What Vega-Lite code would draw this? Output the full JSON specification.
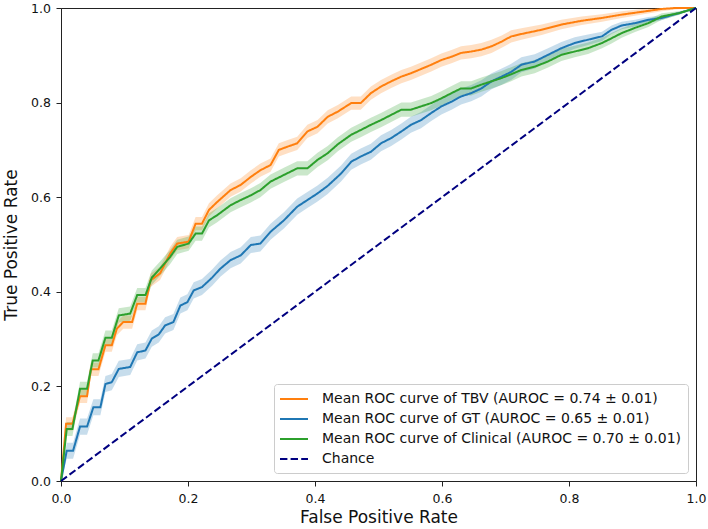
{
  "$schema": "https://vega.github.io/schema/vega-lite/v6.json",
  "autosize": {"type": "none"},
  "padding": {"left": 61, "top": 8, "right": 12, "bottom": 48},
  "width": 635,
  "height": 473,
  "config": {
    "view": {"stroke": "#222", "strokeWidth": 1},
    "font": "DejaVu Sans",
    "axis": {"domainColor": "#222", "domainWidth": 1, "tickColor": "#222", "tickSize": 5, "tickWidth": 1, "labelFontSize": 12.5, "labelColor": "#111", "labelFont": "DejaVu Sans", "titleFont": "DejaVu Sans", "titleFontSize": 17, "titleFontWeight": "normal", "titleColor": "#111", "grid": false, "labelFlush": false, "labelOverlap": false, "labelBound": false}
  },
  "data": {"values": [
    {"series":"TBV","fpr":0,"tpr":0,"lo":0,"hi":0},
    {"series":"TBV","fpr":0.008,"tpr":0.121,"lo":0.107,"hi":0.135},
    {"series":"TBV","fpr":0.018,"tpr":0.121,"lo":0.107,"hi":0.135},
    {"series":"TBV","fpr":0.030,"tpr":0.179,"lo":0.165,"hi":0.193},
    {"series":"TBV","fpr":0.041,"tpr":0.179,"lo":0.165,"hi":0.193},
    {"series":"TBV","fpr":0.047,"tpr":0.236,"lo":0.222,"hi":0.250},
    {"series":"TBV","fpr":0.059,"tpr":0.236,"lo":0.222,"hi":0.250},
    {"series":"TBV","fpr":0.070,"tpr":0.287,"lo":0.273,"hi":0.301},
    {"series":"TBV","fpr":0.080,"tpr":0.287,"lo":0.273,"hi":0.301},
    {"series":"TBV","fpr":0.088,"tpr":0.322,"lo":0.308,"hi":0.336},
    {"series":"TBV","fpr":0.098,"tpr":0.336,"lo":0.322,"hi":0.350},
    {"series":"TBV","fpr":0.112,"tpr":0.336,"lo":0.322,"hi":0.350},
    {"series":"TBV","fpr":0.120,"tpr":0.375,"lo":0.361,"hi":0.389},
    {"series":"TBV","fpr":0.133,"tpr":0.375,"lo":0.361,"hi":0.389},
    {"series":"TBV","fpr":0.141,"tpr":0.424,"lo":0.410,"hi":0.438},
    {"series":"TBV","fpr":0.156,"tpr":0.439,"lo":0.425,"hi":0.453},
    {"series":"TBV","fpr":0.172,"tpr":0.481,"lo":0.467,"hi":0.495},
    {"series":"TBV","fpr":0.183,"tpr":0.502,"lo":0.488,"hi":0.516},
    {"series":"TBV","fpr":0.201,"tpr":0.506,"lo":0.492,"hi":0.520},
    {"series":"TBV","fpr":0.212,"tpr":0.544,"lo":0.530,"hi":0.558},
    {"series":"TBV","fpr":0.222,"tpr":0.544,"lo":0.530,"hi":0.558},
    {"series":"TBV","fpr":0.233,"tpr":0.573,"lo":0.559,"hi":0.587},
    {"series":"TBV","fpr":0.246,"tpr":0.590,"lo":0.576,"hi":0.604},
    {"series":"TBV","fpr":0.267,"tpr":0.615,"lo":0.601,"hi":0.629},
    {"series":"TBV","fpr":0.283,"tpr":0.626,"lo":0.612,"hi":0.640},
    {"series":"TBV","fpr":0.299,"tpr":0.643,"lo":0.629,"hi":0.657},
    {"series":"TBV","fpr":0.314,"tpr":0.657,"lo":0.643,"hi":0.671},
    {"series":"TBV","fpr":0.330,"tpr":0.668,"lo":0.654,"hi":0.682},
    {"series":"TBV","fpr":0.343,"tpr":0.700,"lo":0.686,"hi":0.714},
    {"series":"TBV","fpr":0.357,"tpr":0.707,"lo":0.693,"hi":0.721},
    {"series":"TBV","fpr":0.372,"tpr":0.714,"lo":0.700,"hi":0.728},
    {"series":"TBV","fpr":0.388,"tpr":0.739,"lo":0.725,"hi":0.753},
    {"series":"TBV","fpr":0.404,"tpr":0.749,"lo":0.735,"hi":0.763},
    {"series":"TBV","fpr":0.420,"tpr":0.770,"lo":0.756,"hi":0.784},
    {"series":"TBV","fpr":0.436,"tpr":0.781,"lo":0.767,"hi":0.795},
    {"series":"TBV","fpr":0.457,"tpr":0.799,"lo":0.785,"hi":0.813},
    {"series":"TBV","fpr":0.472,"tpr":0.799,"lo":0.785,"hi":0.813},
    {"series":"TBV","fpr":0.488,"tpr":0.820,"lo":0.806,"hi":0.834},
    {"series":"TBV","fpr":0.504,"tpr":0.834,"lo":0.820,"hi":0.848},
    {"series":"TBV","fpr":0.520,"tpr":0.845,"lo":0.831,"hi":0.859},
    {"series":"TBV","fpr":0.536,"tpr":0.855,"lo":0.841,"hi":0.869},
    {"series":"TBV","fpr":0.551,"tpr":0.862,"lo":0.848,"hi":0.876},
    {"series":"TBV","fpr":0.567,"tpr":0.871,"lo":0.857,"hi":0.885},
    {"series":"TBV","fpr":0.583,"tpr":0.880,"lo":0.866,"hi":0.894},
    {"series":"TBV","fpr":0.599,"tpr":0.890,"lo":0.876,"hi":0.904},
    {"series":"TBV","fpr":0.615,"tpr":0.897,"lo":0.883,"hi":0.911},
    {"series":"TBV","fpr":0.630,"tpr":0.905,"lo":0.891,"hi":0.919},
    {"series":"TBV","fpr":0.646,"tpr":0.908,"lo":0.894,"hi":0.922},
    {"series":"TBV","fpr":0.662,"tpr":0.912,"lo":0.898,"hi":0.926},
    {"series":"TBV","fpr":0.678,"tpr":0.919,"lo":0.905,"hi":0.933},
    {"series":"TBV","fpr":0.694,"tpr":0.929,"lo":0.916,"hi":0.942},
    {"series":"TBV","fpr":0.709,"tpr":0.940,"lo":0.927,"hi":0.953},
    {"series":"TBV","fpr":0.725,"tpr":0.945,"lo":0.933,"hi":0.957},
    {"series":"TBV","fpr":0.757,"tpr":0.954,"lo":0.943,"hi":0.965},
    {"series":"TBV","fpr":0.788,"tpr":0.965,"lo":0.955,"hi":0.975},
    {"series":"TBV","fpr":0.820,"tpr":0.973,"lo":0.964,"hi":0.982},
    {"series":"TBV","fpr":0.852,"tpr":0.979,"lo":0.971,"hi":0.987},
    {"series":"TBV","fpr":0.883,"tpr":0.986,"lo":0.979,"hi":0.993},
    {"series":"TBV","fpr":0.915,"tpr":0.992,"lo":0.986,"hi":0.998},
    {"series":"TBV","fpr":0.946,"tpr":0.998,"lo":0.993,"hi":1.0},
    {"series":"TBV","fpr":0.967,"tpr":1.0,"lo":0.997,"hi":1.0},
    {"series":"TBV","fpr":1.0,"tpr":1.0,"lo":1.0,"hi":1.0},

    {"series":"GT","fpr":0,"tpr":0,"lo":0,"hi":0},
    {"series":"GT","fpr":0.009,"tpr":0.064,"lo":0.047,"hi":0.081},
    {"series":"GT","fpr":0.019,"tpr":0.064,"lo":0.047,"hi":0.081},
    {"series":"GT","fpr":0.030,"tpr":0.115,"lo":0.098,"hi":0.132},
    {"series":"GT","fpr":0.041,"tpr":0.115,"lo":0.098,"hi":0.132},
    {"series":"GT","fpr":0.051,"tpr":0.156,"lo":0.139,"hi":0.173},
    {"series":"GT","fpr":0.062,"tpr":0.156,"lo":0.139,"hi":0.173},
    {"series":"GT","fpr":0.070,"tpr":0.205,"lo":0.188,"hi":0.222},
    {"series":"GT","fpr":0.080,"tpr":0.209,"lo":0.192,"hi":0.226},
    {"series":"GT","fpr":0.091,"tpr":0.237,"lo":0.220,"hi":0.254},
    {"series":"GT","fpr":0.109,"tpr":0.241,"lo":0.224,"hi":0.258},
    {"series":"GT","fpr":0.120,"tpr":0.272,"lo":0.255,"hi":0.289},
    {"series":"GT","fpr":0.133,"tpr":0.276,"lo":0.259,"hi":0.293},
    {"series":"GT","fpr":0.143,"tpr":0.301,"lo":0.284,"hi":0.318},
    {"series":"GT","fpr":0.154,"tpr":0.310,"lo":0.293,"hi":0.327},
    {"series":"GT","fpr":0.164,"tpr":0.329,"lo":0.312,"hi":0.346},
    {"series":"GT","fpr":0.177,"tpr":0.336,"lo":0.319,"hi":0.353},
    {"series":"GT","fpr":0.188,"tpr":0.371,"lo":0.354,"hi":0.388},
    {"series":"GT","fpr":0.199,"tpr":0.378,"lo":0.361,"hi":0.395},
    {"series":"GT","fpr":0.209,"tpr":0.403,"lo":0.386,"hi":0.420},
    {"series":"GT","fpr":0.222,"tpr":0.410,"lo":0.393,"hi":0.427},
    {"series":"GT","fpr":0.238,"tpr":0.430,"lo":0.413,"hi":0.447},
    {"series":"GT","fpr":0.251,"tpr":0.449,"lo":0.432,"hi":0.466},
    {"series":"GT","fpr":0.267,"tpr":0.467,"lo":0.450,"hi":0.484},
    {"series":"GT","fpr":0.283,"tpr":0.477,"lo":0.460,"hi":0.494},
    {"series":"GT","fpr":0.299,"tpr":0.499,"lo":0.482,"hi":0.516},
    {"series":"GT","fpr":0.314,"tpr":0.502,"lo":0.485,"hi":0.519},
    {"series":"GT","fpr":0.330,"tpr":0.527,"lo":0.510,"hi":0.544},
    {"series":"GT","fpr":0.351,"tpr":0.551,"lo":0.534,"hi":0.568},
    {"series":"GT","fpr":0.372,"tpr":0.580,"lo":0.563,"hi":0.597},
    {"series":"GT","fpr":0.388,"tpr":0.594,"lo":0.577,"hi":0.611},
    {"series":"GT","fpr":0.404,"tpr":0.608,"lo":0.591,"hi":0.625},
    {"series":"GT","fpr":0.420,"tpr":0.624,"lo":0.607,"hi":0.641},
    {"series":"GT","fpr":0.441,"tpr":0.650,"lo":0.633,"hi":0.667},
    {"series":"GT","fpr":0.457,"tpr":0.675,"lo":0.658,"hi":0.692},
    {"series":"GT","fpr":0.472,"tpr":0.686,"lo":0.669,"hi":0.703},
    {"series":"GT","fpr":0.488,"tpr":0.696,"lo":0.679,"hi":0.713},
    {"series":"GT","fpr":0.504,"tpr":0.714,"lo":0.697,"hi":0.731},
    {"series":"GT","fpr":0.520,"tpr":0.725,"lo":0.708,"hi":0.742},
    {"series":"GT","fpr":0.536,"tpr":0.739,"lo":0.722,"hi":0.756},
    {"series":"GT","fpr":0.551,"tpr":0.753,"lo":0.736,"hi":0.770},
    {"series":"GT","fpr":0.567,"tpr":0.763,"lo":0.746,"hi":0.780},
    {"series":"GT","fpr":0.583,"tpr":0.778,"lo":0.761,"hi":0.795},
    {"series":"GT","fpr":0.599,"tpr":0.792,"lo":0.775,"hi":0.809},
    {"series":"GT","fpr":0.615,"tpr":0.802,"lo":0.785,"hi":0.819},
    {"series":"GT","fpr":0.630,"tpr":0.813,"lo":0.796,"hi":0.830},
    {"series":"GT","fpr":0.646,"tpr":0.820,"lo":0.803,"hi":0.837},
    {"series":"GT","fpr":0.662,"tpr":0.830,"lo":0.813,"hi":0.847},
    {"series":"GT","fpr":0.678,"tpr":0.845,"lo":0.828,"hi":0.862},
    {"series":"GT","fpr":0.694,"tpr":0.855,"lo":0.838,"hi":0.872},
    {"series":"GT","fpr":0.709,"tpr":0.865,"lo":0.848,"hi":0.882},
    {"series":"GT","fpr":0.725,"tpr":0.880,"lo":0.864,"hi":0.896},
    {"series":"GT","fpr":0.746,"tpr":0.887,"lo":0.872,"hi":0.902},
    {"series":"GT","fpr":0.767,"tpr":0.901,"lo":0.887,"hi":0.915},
    {"series":"GT","fpr":0.788,"tpr":0.915,"lo":0.902,"hi":0.928},
    {"series":"GT","fpr":0.809,"tpr":0.926,"lo":0.914,"hi":0.938},
    {"series":"GT","fpr":0.830,"tpr":0.933,"lo":0.922,"hi":0.944},
    {"series":"GT","fpr":0.852,"tpr":0.940,"lo":0.930,"hi":0.950},
    {"series":"GT","fpr":0.867,"tpr":0.954,"lo":0.945,"hi":0.963},
    {"series":"GT","fpr":0.883,"tpr":0.963,"lo":0.955,"hi":0.971},
    {"series":"GT","fpr":0.904,"tpr":0.968,"lo":0.961,"hi":0.975},
    {"series":"GT","fpr":0.925,"tpr":0.975,"lo":0.969,"hi":0.981},
    {"series":"GT","fpr":0.946,"tpr":0.979,"lo":0.974,"hi":0.984},
    {"series":"GT","fpr":0.973,"tpr":0.989,"lo":0.986,"hi":0.992},
    {"series":"GT","fpr":1.0,"tpr":1.0,"lo":1.0,"hi":1.0},

    {"series":"Clinical","fpr":0,"tpr":0,"lo":0,"hi":0},
    {"series":"Clinical","fpr":0.009,"tpr":0.110,"lo":0.095,"hi":0.125},
    {"series":"Clinical","fpr":0.018,"tpr":0.110,"lo":0.095,"hi":0.125},
    {"series":"Clinical","fpr":0.030,"tpr":0.195,"lo":0.180,"hi":0.210},
    {"series":"Clinical","fpr":0.041,"tpr":0.195,"lo":0.180,"hi":0.210},
    {"series":"Clinical","fpr":0.050,"tpr":0.255,"lo":0.240,"hi":0.270},
    {"series":"Clinical","fpr":0.059,"tpr":0.255,"lo":0.240,"hi":0.270},
    {"series":"Clinical","fpr":0.070,"tpr":0.303,"lo":0.288,"hi":0.318},
    {"series":"Clinical","fpr":0.080,"tpr":0.303,"lo":0.288,"hi":0.318},
    {"series":"Clinical","fpr":0.091,"tpr":0.350,"lo":0.335,"hi":0.365},
    {"series":"Clinical","fpr":0.109,"tpr":0.354,"lo":0.339,"hi":0.369},
    {"series":"Clinical","fpr":0.120,"tpr":0.393,"lo":0.378,"hi":0.408},
    {"series":"Clinical","fpr":0.133,"tpr":0.393,"lo":0.378,"hi":0.408},
    {"series":"Clinical","fpr":0.143,"tpr":0.430,"lo":0.415,"hi":0.445},
    {"series":"Clinical","fpr":0.156,"tpr":0.449,"lo":0.434,"hi":0.464},
    {"series":"Clinical","fpr":0.172,"tpr":0.474,"lo":0.459,"hi":0.489},
    {"series":"Clinical","fpr":0.183,"tpr":0.495,"lo":0.480,"hi":0.510},
    {"series":"Clinical","fpr":0.201,"tpr":0.502,"lo":0.487,"hi":0.517},
    {"series":"Clinical","fpr":0.212,"tpr":0.523,"lo":0.508,"hi":0.538},
    {"series":"Clinical","fpr":0.222,"tpr":0.523,"lo":0.508,"hi":0.538},
    {"series":"Clinical","fpr":0.233,"tpr":0.551,"lo":0.536,"hi":0.566},
    {"series":"Clinical","fpr":0.246,"tpr":0.562,"lo":0.547,"hi":0.577},
    {"series":"Clinical","fpr":0.267,"tpr":0.583,"lo":0.568,"hi":0.598},
    {"series":"Clinical","fpr":0.283,"tpr":0.594,"lo":0.579,"hi":0.609},
    {"series":"Clinical","fpr":0.299,"tpr":0.604,"lo":0.589,"hi":0.619},
    {"series":"Clinical","fpr":0.314,"tpr":0.615,"lo":0.600,"hi":0.630},
    {"series":"Clinical","fpr":0.330,"tpr":0.633,"lo":0.618,"hi":0.648},
    {"series":"Clinical","fpr":0.351,"tpr":0.647,"lo":0.632,"hi":0.662},
    {"series":"Clinical","fpr":0.372,"tpr":0.661,"lo":0.646,"hi":0.676},
    {"series":"Clinical","fpr":0.388,"tpr":0.661,"lo":0.646,"hi":0.676},
    {"series":"Clinical","fpr":0.404,"tpr":0.679,"lo":0.664,"hi":0.694},
    {"series":"Clinical","fpr":0.420,"tpr":0.693,"lo":0.678,"hi":0.708},
    {"series":"Clinical","fpr":0.436,"tpr":0.712,"lo":0.697,"hi":0.727},
    {"series":"Clinical","fpr":0.457,"tpr":0.732,"lo":0.717,"hi":0.747},
    {"series":"Clinical","fpr":0.472,"tpr":0.742,"lo":0.727,"hi":0.757},
    {"series":"Clinical","fpr":0.488,"tpr":0.753,"lo":0.738,"hi":0.768},
    {"series":"Clinical","fpr":0.504,"tpr":0.763,"lo":0.748,"hi":0.778},
    {"series":"Clinical","fpr":0.520,"tpr":0.774,"lo":0.759,"hi":0.789},
    {"series":"Clinical","fpr":0.536,"tpr":0.785,"lo":0.770,"hi":0.800},
    {"series":"Clinical","fpr":0.551,"tpr":0.785,"lo":0.770,"hi":0.800},
    {"series":"Clinical","fpr":0.567,"tpr":0.792,"lo":0.777,"hi":0.807},
    {"series":"Clinical","fpr":0.583,"tpr":0.799,"lo":0.784,"hi":0.814},
    {"series":"Clinical","fpr":0.599,"tpr":0.809,"lo":0.794,"hi":0.824},
    {"series":"Clinical","fpr":0.615,"tpr":0.820,"lo":0.805,"hi":0.835},
    {"series":"Clinical","fpr":0.630,"tpr":0.830,"lo":0.815,"hi":0.845},
    {"series":"Clinical","fpr":0.646,"tpr":0.830,"lo":0.815,"hi":0.845},
    {"series":"Clinical","fpr":0.662,"tpr":0.838,"lo":0.823,"hi":0.853},
    {"series":"Clinical","fpr":0.678,"tpr":0.845,"lo":0.830,"hi":0.860},
    {"series":"Clinical","fpr":0.694,"tpr":0.852,"lo":0.837,"hi":0.867},
    {"series":"Clinical","fpr":0.709,"tpr":0.860,"lo":0.845,"hi":0.875},
    {"series":"Clinical","fpr":0.725,"tpr":0.869,"lo":0.855,"hi":0.883},
    {"series":"Clinical","fpr":0.746,"tpr":0.876,"lo":0.862,"hi":0.890},
    {"series":"Clinical","fpr":0.767,"tpr":0.887,"lo":0.874,"hi":0.900},
    {"series":"Clinical","fpr":0.788,"tpr":0.901,"lo":0.888,"hi":0.914},
    {"series":"Clinical","fpr":0.809,"tpr":0.908,"lo":0.896,"hi":0.920},
    {"series":"Clinical","fpr":0.830,"tpr":0.915,"lo":0.903,"hi":0.927},
    {"series":"Clinical","fpr":0.852,"tpr":0.926,"lo":0.915,"hi":0.937},
    {"series":"Clinical","fpr":0.867,"tpr":0.936,"lo":0.925,"hi":0.947},
    {"series":"Clinical","fpr":0.883,"tpr":0.947,"lo":0.937,"hi":0.957},
    {"series":"Clinical","fpr":0.904,"tpr":0.958,"lo":0.949,"hi":0.967},
    {"series":"Clinical","fpr":0.925,"tpr":0.968,"lo":0.960,"hi":0.976},
    {"series":"Clinical","fpr":0.946,"tpr":0.982,"lo":0.975,"hi":0.989},
    {"series":"Clinical","fpr":0.973,"tpr":0.989,"lo":0.985,"hi":0.993},
    {"series":"Clinical","fpr":1.0,"tpr":1.0,"lo":1.0,"hi":1.0},

    {"series":"Chance","fpr":0,"tpr":0,"lo":null,"hi":null},
    {"series":"Chance","fpr":1,"tpr":1,"lo":null,"hi":null}
  ]},
  "encoding": {
    "x": {"field": "fpr", "type": "quantitative", "scale": {"domain": [0, 1], "nice": false, "zero": false},
          "axis": {"title": "False Positive Rate", "values": [0, 0.2, 0.4, 0.6, 0.8, 1], "format": ".1f", "labelPadding": 6, "titlePadding": 5}},
    "y": {"field": "tpr", "type": "quantitative", "scale": {"domain": [0, 1], "nice": false, "zero": false},
          "axis": {"title": "True Positive Rate", "values": [0, 0.2, 0.4, 0.6, 0.8, 1], "format": ".1f", "labelPadding": 5.5, "titlePadding": 10}},
    "color": {"field": "series", "type": "nominal",
              "scale": {"domain": ["TBV", "GT", "Clinical", "Chance"], "range": ["#ff7f0e", "#1f77b4", "#2ca02c", "#000080"]},
              "legend": {"title": null, "orient": "bottom-right", "offset": 8,
                         "symbolType": "M-2,0H2", "symbolSize": 196, "symbolStrokeWidth": 2, "symbolOffset": 5, "symbolOpacity": 1,
                         "labelOffset": 20, "labelFontSize": 14, "labelFont": "DejaVu Sans", "labelColor": "#111", "labelLimit": 0,
                         "rowPadding": 5, "padding": 7, "fillColor": "white", "strokeColor": "#cccccc", "cornerRadius": 3,
                         "labelExpr": "datum.label == 'Chance' ? 'Chance' : 'Mean ROC curve of ' + datum.label + (datum.label == 'TBV' ? ' (AUROC = 0.74 ± 0.01)' : (datum.label == 'GT' ? ' (AUROC = 0.65 ± 0.01)' : ' (AUROC = 0.70 ± 0.01)'))"}}
  },
  "layer": [
    {
      "transform": [{"filter": "isValid(datum.lo)"}],
      "mark": {"type": "area", "opacity": 0.25},
      "encoding": {
        "y": {"field": "lo", "type": "quantitative"},
        "y2": {"field": "hi"}
      }
    },
    {
      "mark": {"type": "line", "strokeWidth": 2},
      "encoding": {
        "strokeDash": {"field": "series", "type": "nominal",
                       "scale": {"domain": ["TBV", "GT", "Clinical", "Chance"], "range": [[1, 0], [1, 0], [1, 0], [7.4, 3.2]]},
                       "legend": {"title": null}}
      }
    }
  ]
}
